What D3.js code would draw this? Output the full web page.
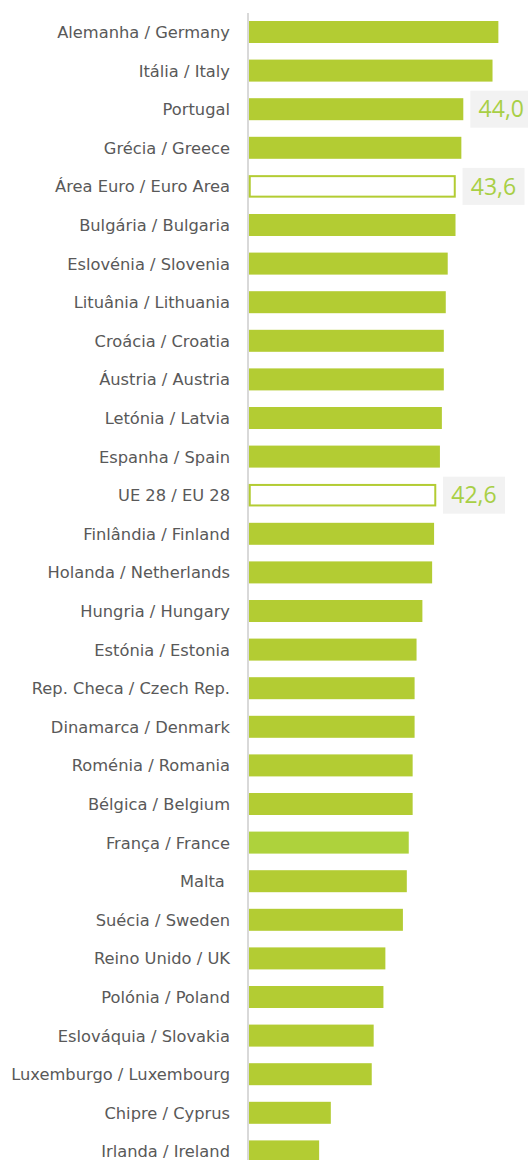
<!DOCTYPE html>
<html>
<head>
<meta charset="utf-8">
<script src="https://cdn.jsdelivr.net/npm/d3@7"></script>
<style>
html,body{margin:0;padding:0;background:#fff;}
svg{display:block;}
</style>
</head>
<body>
<svg id="chart" width="528" height="1160"></svg>
<script>
const categories = [
  "Alemanha / Germany","Itália / Italy","Portugal","Grécia / Greece","Área Euro / Euro Area",
  "Bulgária / Bulgaria","Eslovénia / Slovenia","Lituânia / Lithuania","Croácia / Croatia","Áustria / Austria",
  "Letónia / Latvia","Espanha / Spain","UE 28 / EU 28","Finlândia / Finland","Holanda / Netherlands",
  "Hungria / Hungary","Estónia / Estonia","Rep. Checa / Czech Rep.","Dinamarca / Denmark","Roménia / Romania",
  "Bélgica / Belgium","França / France","Malta ","Suécia / Sweden","Reino Unido / UK",
  "Polónia / Poland","Eslováquia / Slovakia","Luxemburgo / Luxembourg","Chipre / Cyprus","Irlanda / Ireland"
];
const values = [
  45.8,45.5,44.0,43.9,43.6,
  43.6,43.2,43.1,43.0,43.0,
  42.9,42.8,42.6,42.5,42.4,
  41.9,41.6,41.5,41.5,41.4,
  41.4,41.2,41.1,40.9,40.0,
  39.9,39.4,39.3,37.2,36.6
];
const barTypes = [
  "bar","bar","bar","bar","outline",
  "bar","bar","bar","bar","bar",
  "bar","bar","outline","bar","bar",
  "bar","bar","bar","bar","bar",
  "bar","france","bar","bar","bar",
  "bar","bar","bar","bar","bar"
];
const labelled = ["Portugal","Área Euro / Euro Area","UE 28 / EU 28"];
const labelText = ["44,0","43,6","42,6"];

const data = categories.map((c,i)=>({c, v:values[i], t:barTypes[i]}));
const svg = d3.select("#chart");

const x = d3.scaleLinear().domain([33, 44]).range([249, 463.3]);
const y = d3.scaleBand().domain(categories).range([12.7, 12.7 + 30*38.6])
  .paddingInner(0.43).paddingOuter(0.215);

// axis line
svg.append("line")
  .attr("x1",248).attr("x2",248).attr("y1",13).attr("y2",1160)
  .attr("stroke","#d9d9d9").attr("stroke-width",2);

const colorFor = t => t==="france" ? "#aed23c" : "#b3cc33";

svg.selectAll("rect.bar").data(data).join("rect")
  .attr("class","bar")
  .attr("x", d => d.t==="outline" ? x(33)+0.75 : x(33))
  .attr("y", d => d.t==="outline" ? y(d.c)+0.75 : y(d.c))
  .attr("width", d => d.t==="outline" ? x(d.v)-x(33)-1.5 : x(d.v)-x(33))
  .attr("height", d => d.t==="outline" ? y.bandwidth()-1.5 : y.bandwidth())
  .attr("fill", d => d.t==="outline" ? "#ffffff" : colorFor(d.t))
  .attr("stroke", d => d.t==="outline" ? "#b3cc33" : "none")
  .attr("stroke-width", 2);

// category labels
svg.selectAll("text.cat").data(data).join("text")
  .attr("class","cat")
  .attr("x",230)
  .attr("y", d => y(d.c) + y.bandwidth()/2)
  .attr("dy","0.37em")
  .attr("text-anchor","end")
  .style("white-space","pre")
  .attr("font-family","'DejaVu Sans', Verdana, sans-serif")
  .attr("font-size",16.3)
  .attr("fill","#595959")
  .text(d => d.c);

// value labels
const lab = labelled.map((c,i)=>({c, v: values[categories.indexOf(c)], s: labelText[i]}));
const g = svg.selectAll("g.vl").data(lab).join("g").attr("class","vl")
  .attr("transform", d => `translate(${x(d.v)+7},${y(d.c)+y.bandwidth()/2})`);
g.append("rect").attr("x",0).attr("y",-18.5).attr("width",62).attr("height",37).attr("fill","#f2f2f2");
g.append("text").attr("x",31).attr("y",0).attr("dy","0.36em")
  .attr("text-anchor","middle")
  .attr("font-family","'Open Sans', sans-serif")
  .attr("font-size",23)
  .attr("fill","#a8cf45")
  .text(d => d.s);
</script>
</body>
</html>
